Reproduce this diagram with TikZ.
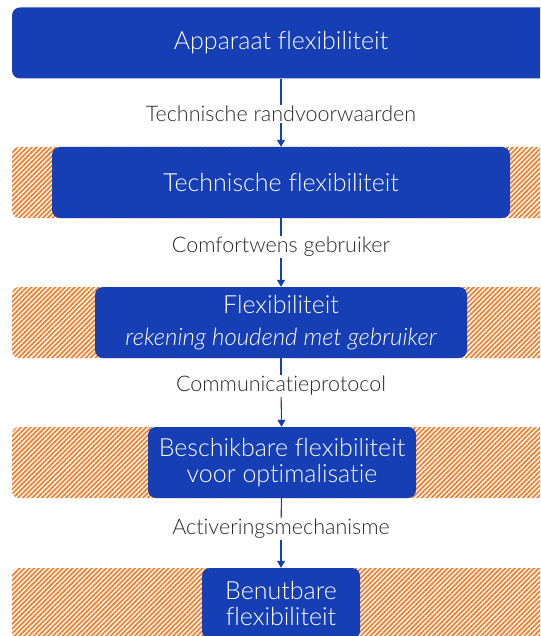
\documentclass[tikz,border=0pt]{standalone}
\usepackage{fontspec}
\setmainfont{Lato Light}[Ligatures={NoCommon,NoContextual}]
\usetikzlibrary{arrows.meta,patterns.meta,positioning}
\definecolor{boxBlue}{HTML}{163FB6}
\definecolor{hatchOrange}{HTML}{F2802E}
\definecolor{labelGray}{HTML}{2A2A2A}
\begin{document}
\begin{tikzpicture}[x=1pt,y=-1pt,
		blueBox/.style={fill=boxBlue,rounded corners=8pt,text=white,align=center,minimum height=71pt,inner sep=0pt,font=\fontsize{25}{26}\selectfont},
		hatchBand/.style={pattern={Lines[angle=45,distance=3.4pt,line width=1.8pt]},pattern color=hatchOrange,rounded corners=7pt},
		flowLabel/.style={text=labelGray,font=\fontsize{21.5}{24}\selectfont,inner sep=1pt},
		flowLine/.style={draw=boxBlue,line width=1.1pt},
		flowArrow/.style={flowLine,-{Triangle[length=7pt,width=8pt]}}]
	\clip (0,0) rectangle (540,636);
	\foreach \y in {147,287,427,568}
		\path[hatchBand] (12,\y) rectangle (560,\y+71);
	\node [blueBox,minimum width=538pt] (app) at (281,43) {Apparaat flexibiliteit};
	\node [blueBox,minimum width=458pt] (tech) at (281,182.5) {Technische flexibiliteit};
	\node [blueBox,minimum width=372pt] (user) at (281,322.5) {Flexibiliteit\\[6pt]{\fontsize{24}{26}\selectfont\itshape rekening houdend met gebruiker}};
	\node [blueBox,minimum width=268pt] (avail) at (282,462.5) {Beschikbare flexibiliteit\\voor optimalisatie};
	\node [blueBox,minimum width=158pt] (usable) at (281,603.5) {Benutbare\\flexibiliteit};
	\node [flowLabel] (lab1) at (281,114) {Technische randvoorwaarden};
	\node [flowLabel] (lab2) at (281,247) {Comfortwens gebruiker};
	\node [flowLabel] (lab3) at (281,386) {Communicatieprotocol};
	\node [flowLabel] (lab4) at (281,529) {Activeringsmechanisme};
	\draw [flowLine] (app) -- (lab1);
	\draw [flowArrow] (lab1) -- (tech);
	\draw [flowLine] (tech) -- (lab2);
	\draw [flowArrow] (lab2) -- (user);
	\draw [flowLine] (user) -- (lab3);
	\draw [flowArrow] (lab3) -- (avail);
	\draw [flowLine] (avail) -- (lab4);
	\draw [flowArrow] (lab4) -- (usable);
\end{tikzpicture}
\end{document}
